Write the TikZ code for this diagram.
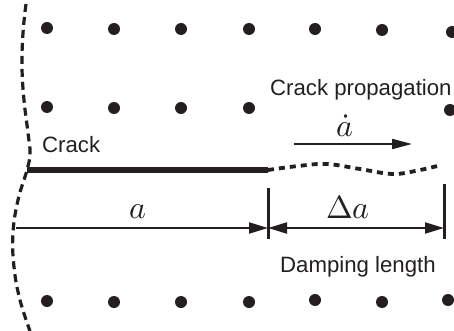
\documentclass[tikz,border=0pt]{standalone}
\usepackage{fontspec}
\usepackage{unicode-math}
\setmainfont{Liberation Sans}
\setmathfont{Latin Modern Math}
\usetikzlibrary{arrows.meta}
\definecolor{ink}{RGB}{35,31,32}
\begin{document}
\begin{tikzpicture}[x=1pt,y=-1pt,
  lbl/.style={font=\fontsize{22.2}{26}\selectfont, inner sep=0pt, text=ink},
  mlbl/.style={font=\fontsize{32}{38}\selectfont, inner sep=0pt, text=ink},
  gridpt/.style={circle, fill=ink, inner sep=0pt, minimum size=12pt},
  tipA/.style={-{Triangle[length=19pt,width=11pt]}},
  dimline/.style={draw=ink, line width=2pt},
  ticks/.style={draw=ink, line width=3pt},
  bound/.style={draw=ink, line width=3.2pt, dash pattern=on 8pt off 5pt},
  ext/.style={draw=ink, line width=3.8pt, dash pattern=on 6pt off 5pt},
  crackline/.style={draw=ink, line width=5.2pt}]
\useasboundingbox (0,0) rectangle (454,331);
% grid points
\foreach \x/\y [count=\i] in {47/28,114/29,181/29,249/29,315/29,382/30,452/32,
  47/107,114/108,181/108,249/108,450/110,
  47/301,114/302,181/302,249/302,315/300,382/302,448/300}
  \node[gridpt] (p\i) at (\x,\y) {};
% left boundary
\draw[bound] plot[smooth, tension=0.7] coordinates {(26,4) (23,33) (22,67) (24,100) (28,133) (30,153) (27,170) (18,200) (13,233) (14,267) (20,300) (30,331)};
% crack
\coordinate (c0) at (27,170);
\coordinate (ctip) at (268,170);
\draw[crackline] (c0) -- (ctip);
\draw[ext] plot[smooth, tension=0.6] coordinates {(268,170) (298,166) (327,164) (360,169) (393,174) (420,170) (441,165)};
% ticks
\coordinate (t1a) at (268,188);
\coordinate (t1b) at (268,239);
\coordinate (t2a) at (444,184);
\coordinate (t2b) at (444,239);
\draw[ticks] (t1a) -- (t1b);
\draw[ticks] (t2a) -- (t2b);
% dimensions
\coordinate (aL) at (16,228);
\coordinate (aR) at (268,228);
\coordinate (dR) at (444,228);
\draw[dimline, tipA] (aL) -- (aR);
\draw[dimline, {Triangle[length=19pt,width=11pt]}-{Triangle[length=19pt,width=11pt]}] (aR) -- (dR);
% crack propagation arrow
\coordinate (v0) at (294,144);
\coordinate (v1) at (412,144);
\draw[dimline, -{Triangle[length=20pt,width=10pt]}] (v0) -- (v1);
% labels
\node[lbl, anchor=base west] (crack) at (42,153) {Crack};
\node[lbl, anchor=base west] (prop) at (270,96) {Crack propagation};
\node[lbl, anchor=base west] (damp) at (280,272) {Damping length};
\node[mlbl, anchor=base] (alab) at (138,218) {$a$};
\node[mlbl, anchor=base] (dalab) at (348,218) {$\Delta a$};
\node[mlbl, anchor=base] (adot) at (345,137) {$\dot{a}$};
\end{tikzpicture}
\end{document}
